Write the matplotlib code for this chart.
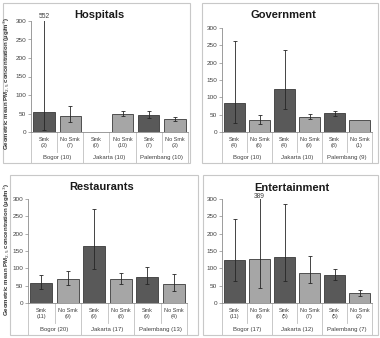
import numpy as np
import matplotlib
matplotlib.use("Agg")
import matplotlib.pyplot as plt
from matplotlib.patches import Rectangle
import matplotlib.transforms as mtransforms

nan = np.nan
groups = ["Smk", "No Smk", "Smk", "No Smk", "Smk", "No Smk"]

hosp_n = [3, 7, 0, 10, 7, 3]
hosp_cities = ["Bogor (10)", "Jakarta (10)", "Palembang (10)"]
hosp_mean = [55, 43, nan, 49, 47, 35]
hosp_lo = [5, 27, nan, 42, 38, 29]
hosp_hi = [552, 69, nan, 57, 57, 40]

gov_n = [4, 6, 4, 9, 8, 1]
gov_cities = ["Bogor (10)", "Jakarta (10)", "Palembang (9)"]
gov_mean = [85, 35, 125, 44, 55, 36]
gov_lo = [25, 22, 65, 37, 47, nan]
gov_hi = [262, 49, 236, 52, 62, nan]

rest_n = [11, 9, 9, 8, 9, 4]
rest_cities = ["Bogor (20)", "Jakarta (17)", "Palembang (13)"]
rest_mean = [58, 70, 163, 70, 76, 55]
rest_lo = [40, 52, 97, 55, 55, 35]
rest_hi = [82, 92, 271, 86, 103, 84]

ent_n = [11, 6, 5, 7, 5, 2]
ent_cities = ["Bogor (17)", "Jakarta (12)", "Palembang (7)"]
ent_mean = [123, 126, 133, 87, 81, 28]
ent_lo = [63, 42, 63, 57, 67, 20]
ent_hi = [242, 389, 285, 135, 97, 37]

W, H = 380, 338
fig = plt.figure(figsize=(W / 100, H / 100), dpi=100)
fig.patch.set_facecolor("white")
plt.rcParams["font.family"] = ["Liberation Sans", "DejaVu Sans"]

DARK = "#595959"
LIGHT = "#a6a6a6"
TXT = "#404040"


def panel(l, t, r, b):
    fig.patches.append(Rectangle((l / W, 1 - b / H), (r - l) / W, (b - t) / H,
                                 transform=fig.transFigure, fill=False,
                                 edgecolor="#c8c8c8", lw=0.8, zorder=0))


def draw(ax_box, panel_bottom, title, title_xy, means, lo, hi, ns, cities, annot=None):
    l, t, r, b = ax_box
    ax = fig.add_axes([l / W, 1 - b / H, (r - l) / W, (b - t) / H])
    hpx = b - t
    x = np.arange(6)
    means = np.array(means, float)
    lo = np.array(lo, float)
    hi = np.array(hi, float)
    colors = [DARK if i % 2 == 0 else LIGHT for i in range(6)]
    ax.bar(x, np.nan_to_num(means), width=0.82, color=colors, edgecolor="#3a3a3a", lw=0.6, zorder=2)
    ok = ~np.isnan(lo)
    yerr = np.vstack([means[ok] - lo[ok], hi[ok] - means[ok]])
    ax.errorbar(x[ok], means[ok], yerr=yerr, fmt="none", ecolor="#262626",
                elinewidth=0.6, capsize=1.6, capthick=0.6, zorder=3)
    ax.set_xlim(-0.5, 5.5)
    ax.set_ylim(0, 300)
    ax.set_yticks(range(0, 301, 50))
    ax.tick_params(axis="y", labelsize=4.6, labelcolor=TXT, length=2, width=0.5,
                   color="#8c8c8c", pad=1.5)
    ax.set_xticks([])
    for s in ["top", "right"]:
        ax.spines[s].set_visible(False)
    ax.spines["left"].set_color("#8c8c8c")
    ax.spines["left"].set_linewidth(0.6)
    ax.spines["bottom"].set_color("#8c8c8c")
    ax.spines["bottom"].set_linewidth(0.6)
    ax.patch.set_alpha(0)
    tr = mtransforms.blended_transform_factory(ax.transData, ax.transAxes)
    short = -20 / hpx
    long_ = -(panel_bottom - b) / hpx
    for i in range(7):
        xb = i - 0.5
        y1 = long_ if i % 2 == 0 else short
        ax.plot([xb, xb], [0, y1], transform=tr, color="#bfbfbf", lw=0.6, clip_on=False)
    for i in range(6):
        ax.text(i, -10.5 / hpx, f"{groups[i]}\n({ns[i]})", transform=tr, ha="center",
                va="center", fontsize=4.0, color=TXT, linespacing=1.4)
    for j, c in enumerate(cities):
        ax.text(2 * j + 0.5, -26 / hpx, c, transform=tr, ha="center", va="center",
                fontsize=4.3, color=TXT)
    fig.text(title_xy[0] / W, 1 - title_xy[1] / H, title, ha="center", va="center",
             fontsize=8, fontweight="bold", color="#1a1a1a")
    if annot is not None:
        xi, txt, ypx = annot
        ax.text(xi, 1 + (t - ypx) / hpx, txt, transform=tr, ha="center", va="center",
                fontsize=4.8, color=TXT)
    return ax


panel(3, 3, 190, 163)
panel(202, 3, 378, 163)
panel(10, 175, 198, 335)
panel(203, 175, 378, 335)

draw((31, 21, 188, 132), 163, "Hospitals", (99, 15), hosp_mean, hosp_lo, hosp_hi,
     hosp_n, hosp_cities, annot=(0, "552", 17))
draw((222, 28, 372, 132), 163, "Government", (283, 15), gov_mean, gov_lo, gov_hi,
     gov_n, gov_cities)
draw((28, 199, 187, 303), 335, "Restaurants", (102, 187), rest_mean, rest_lo, rest_hi,
     rest_n, rest_cities)
draw((222, 199, 372, 303), 335, "Entertainment", (292, 188), ent_mean, ent_lo, ent_hi,
     ent_n, ent_cities, annot=(1, "389", 196))

ylab = "Geometric mean PM$_{2.5}$ concentration (\u00b5g/m$^3$)"
fig.text(6.5 / W, 1 - 84 / H, ylab, rotation=90, ha="center", va="center",
         fontsize=4.4, fontweight="bold", color="#333333")
fig.text(6.5 / W, 1 - 250 / H, ylab, rotation=90, ha="center", va="center",
         fontsize=4.4, fontweight="bold", color="#333333")

fig.savefig("out.png", dpi=100, facecolor="white")
